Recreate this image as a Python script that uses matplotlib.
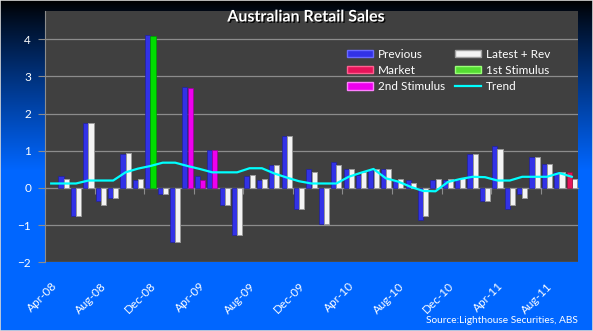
import numpy as np
import matplotlib
matplotlib.use("Agg")
import matplotlib.pyplot as plt
from matplotlib.patches import Patch, Rectangle
from matplotlib.lines import Line2D
import matplotlib.patheffects as pe

plt.rcParams["font.family"] = ["Lato", "DejaVu Sans"]

nan = np.nan

# Monthly categories, Apr-08 .. Oct-11
months = ["Apr-08", "May-08", "Jun-08", "Jul-08", "Aug-08", "Sep-08", "Oct-08", "Nov-08",
          "Dec-08", "Jan-09", "Feb-09", "Mar-09", "Apr-09", "May-09", "Jun-09", "Jul-09",
          "Aug-09", "Sep-09", "Oct-09", "Nov-09", "Dec-09", "Jan-10", "Feb-10", "Mar-10",
          "Apr-10", "May-10", "Jun-10", "Jul-10", "Aug-10", "Sep-10", "Oct-10", "Nov-10",
          "Dec-10", "Jan-11", "Feb-11", "Mar-11", "Apr-11", "May-11", "Jun-11", "Jul-11",
          "Aug-11", "Sep-11", "Oct-11"]
tick_labels = ["Apr-08", "Aug-08", "Dec-08", "Apr-09", "Aug-09", "Dec-09",
               "Apr-10", "Aug-10", "Dec-10", "Apr-11", "Aug-11"]

# Month-on-month % change
previous = [nan, 0.33, -0.76, 1.74, -0.36, -0.28, 0.92, 0.22,
            4.12, -0.17, -1.45, 2.72, 0.32, 1.02, -0.45, -1.27,
            0.32, 0.22, 0.62, 1.40, -0.57, 0.51, -0.97, 0.70,
            0.52, 0.35, 0.48, 0.52, 0.19, 0.21, -0.85, 0.21,
            0.21, 0.21, 0.91, -0.34, 1.12, -0.57, -0.17, 0.82,
            0.64, 0.42, nan]
latest = [nan, 0.23, -0.76, 1.75, -0.47, -0.28, 0.93, 0.23,
          nan, -0.17, -1.45, nan, nan, nan, -0.45, -1.27,
          0.35, 0.23, 0.63, 1.41, -0.57, 0.43, -0.97, 0.63,
          0.52, 0.44, 0.52, 0.52, 0.23, 0.12, -0.75, 0.23,
          0.23, 0.26, 0.92, -0.35, 1.05, -0.47, -0.28, 0.84,
          0.65, 0.43, 0.23]
market = [nan] * 42 + [0.43]
stimulus_1 = [nan] * 8 + [4.10] + [nan] * 34
stimulus_2 = [nan] * 11 + [2.70, 0.21, 1.02] + [nan] * 29
trend = [0.12, 0.12, 0.12, 0.20, 0.20, 0.20, 0.42, 0.52,
         0.59, 0.68, 0.68, 0.59, 0.51, 0.42, 0.42, 0.42,
         0.53, 0.53, 0.39, 0.28, 0.18, 0.12, 0.12, 0.12,
         0.30, 0.41, 0.51, 0.26, 0.17, 0.03, -0.08, -0.09,
         0.16, 0.24, 0.30, 0.29, 0.20, 0.20, 0.30, 0.30,
         0.30, 0.40, 0.30]

C_BLUE = "#3232e6"
C_WHITE = "#f4f4f4"
C_MARKET = "#e6145a"
C_GREEN = "#00dd00"
C_MAGENTA = "#ee00ee"
C_TREND = "#00ffff"
C_GRID = "#8c8c8c"

W, H = 593, 331
fig = plt.figure(figsize=(W / 100, H / 100), dpi=100)

# Black-to-blue backdrop
bg = fig.add_axes([0, 0, 1, 1])
bg.axis("off")
yy = np.arange(H, dtype=float)
t = np.clip(yy / 170.0, 0, 1) ** 0.9
blue = np.array([0, 102, 255]) / 255.0
grad = (t[:, None] * blue[None, :])[:, None, :].repeat(2, axis=1)
bg.imshow(grad, extent=[0, 1, 0, 1], aspect="auto", origin="upper")
bg.add_patch(Rectangle((0, 0), 1, 1, transform=bg.transAxes, fill=False,
                       edgecolor="#d8d8d8", lw=1.2))
bg.set_xlim(0, 1)
bg.set_ylim(0, 1)

ax = fig.add_axes([45 / W, 1 - 262.3 / H, 533 / W, (262.3 - 11) / H])
ax.set_facecolor("#404040")
ax.set_xlim(-0.5, len(months) - 0.5)
ax.set_ylim(-2, 4.76)

x = np.arange(len(months))
w, off = 0.41, 0.21
ax.bar(x - off, previous, w, color=C_BLUE, edgecolor="#22229a", lw=0.5, zorder=3)
ax.bar(x + off, latest, w, color=C_WHITE, edgecolor="#9a9a9a", lw=0.7, zorder=3)
ax.bar(x + off, stimulus_1, w, color=C_GREEN, edgecolor="#009900", lw=0.5, zorder=3)
ax.bar(x + off, stimulus_2, w, color=C_MAGENTA, edgecolor="#990099", lw=0.5, zorder=3)
ax.bar(x - off, market, w, color=C_MARKET, edgecolor="#99103c", lw=0.5, zorder=3)
ax.plot(x, trend, color=C_TREND, lw=1.6, zorder=4)

# Axes styling
ax.set_yticks(range(-2, 5))
ax.yaxis.grid(True, color=C_GRID, lw=0.9)
ax.set_axisbelow(True)
for s in ("top", "right"):
    ax.spines[s].set_visible(False)
ax.spines["left"].set_color(C_GRID)
ax.spines["bottom"].set_color(C_GRID)
ax.spines["bottom"].set_position(("data", 0))
ax.spines["bottom"].set_zorder(2)
ax.tick_params(axis="y", colors=C_GRID, labelcolor="white", length=5,
               labelsize=8.5, pad=5)
ax.set_xticks(np.arange(-0.5, len(months), 4))
ax.tick_params(axis="x", colors=C_GRID, length=4, labelbottom=False)

sec = ax.secondary_xaxis(0)
sec.set_xticks([months.index(m) for m in tick_labels], tick_labels,
               rotation=45, ha="right", rotation_mode="anchor")
sec.tick_params(length=0, colors="white", labelsize=8.5, pad=13)
sec.spines["bottom"].set_visible(False)

# Legend
handles = [
    Patch(facecolor=C_BLUE, edgecolor="#6a6aff", label="Previous"),
    Patch(facecolor=C_MARKET, edgecolor="#ff6090", label="Market"),
    Patch(facecolor=C_MAGENTA, edgecolor="#ff80ff", label="2nd Stimulus"),
    Patch(facecolor=C_WHITE, edgecolor="#a0a0a0", label="Latest + Rev"),
    Patch(facecolor="#55dd33", edgecolor="#99ff77", label="1st Stimulus"),
    Line2D([], [], color=C_TREND, lw=1.6, label="Trend"),
]
ax.legend(handles=handles, ncol=2, loc="upper left",
          bbox_to_anchor=(347 / W, 1 - 48.5 / H), bbox_transform=fig.transFigure,
          frameon=False, labelcolor="white", fontsize=8.5,
          handlelength=2.2, handleheight=0.6, handletextpad=0.4,
          columnspacing=0.9, labelspacing=0.45, borderpad=0, borderaxespad=0)

fig.text(306 / W, 1 - 17.5 / H, "Australian Retail Sales", ha="center", va="center",
         color="white", fontsize=11.5, fontweight="bold",
         path_effects=[pe.withSimplePatchShadow(offset=(1, -1), shadow_rgbFace="black",
                                                alpha=0.9)])
fig.text(578 / W, 1 - 320.7 / H, "Source:Lighthouse Securities, ABS", ha="right",
         va="center", color="white", fontsize=7.3)

fig.savefig("out.png", dpi=100)
